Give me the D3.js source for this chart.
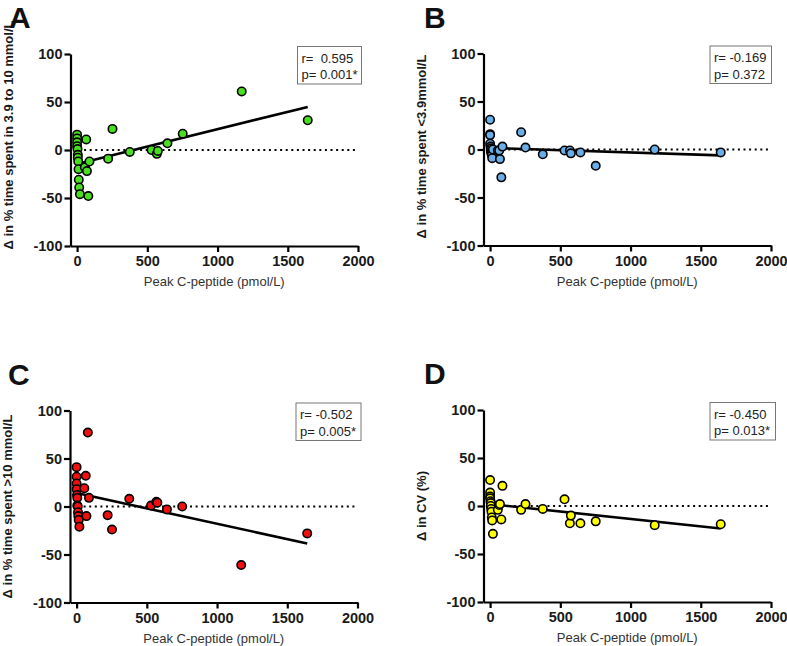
<!DOCTYPE html>
<html>
<head>
<meta charset="utf-8">
<script src="https://cdn.jsdelivr.net/npm/d3@7"></script>
<style>
  body { margin: 0; background: #fff; }
  svg { display: block; font-family: "Liberation Sans", Arial, sans-serif; }
</style>
</head>
<body>
<svg id="chart" width="787" height="646"></svg>
<script>
"use strict";

// peak C-peptide for each patient (same for all 4 panels)
const cPeptide = [0, 0, 0, 0, 3, 5, 5, 8, 10, 12, 15, 20, 55, 65, 70, 80, 88, 221, 252, 375, 530, 568, 575, 643, 752, 1172, 1642];

const deltaInRange = [16, 12, 8, 4, 1, -5, -8, -12, -20, -31, -39, -46, -18, 11, -22, -48, -12, -9, 22, -2, 0, -4, -1, 7, 17, 61, 31];
const deltaBelow = [31, 16, 15, 6, 3, 1, -1, -3, -4, -6, -9, 0, -1, -1, -10, -29, 3, 18, 2, -5, -1, -1, -4, -3, -17, 0, -3];
const deltaAbove = [41, 31, 24, 18, 12, 9, 1, 0, -6, -10, -14, -21, 19, 32, -10, 77, 9, -9, -24, 8, 1, 5, 4, -3, 0, -61, -28];
const deltaCV = [27, 14, 10, 8, 5, 3, 0, -3, -6, -12, -15, -29, -4, 1, 2, -14, 21, -4, 2, -3, 7, -18, -10, -18, -16, -20, -19];

// fitted line: y at x = 0 and at x = 1642
const fitInRange = [-14.6, 44.9];
const fitBelow = [1.7, -6.1];
const fitAbove = [14, -38.5];
const fitCV = [2, -23.4];

const rValues = ["r=  0.595", "r= -0.169", "r= -0.502", "r= -0.450"];
const pValues = ["p= 0.001*", "p= 0.372", "p= 0.005*", "p= 0.013*"];
const panelLetters = ["A", "B", "C", "D"];
const yTitles = [
  "\u0394 in % time spent in 3.9 to 10 mmol/L",
  "\u0394 in % time spent <3.9mmol/L",
  "\u0394 in % time spent >10 mmol/L",
  "\u0394 in CV (%)",
];
const xTicks = [0, 500, 1000, 1500, 2000];
const yTicks = [-100, -50, 0, 50, 100];

const panels = [
  { y: deltaInRange, fit: fitInRange, color: "#48e01e", left: 70.5, top: 54, letterX: 9, titleShift: -15, boxX: 297.5, boxW: 64 },
  { y: deltaBelow, fit: fitBelow, color: "#6aaee8", left: 483.5, top: 53.5, letterX: 424, titleShift: -3, boxX: 710, boxW: 61.5 },
  { y: deltaAbove, fit: fitAbove, color: "#f01010", left: 70, top: 410.5, letterX: 8, titleShift: 0, boxX: 296, boxW: 65 },
  { y: deltaCV, fit: fitCV, color: "#ffff00", left: 483.5, top: 410, letterX: 424, titleShift: 0, boxX: 710, boxW: 65.5 },
];

const svg = d3.select("#chart");
const plotH = 192;
const plotW = 287.5;

panels.forEach((p, i) => {
  const g = svg.append("g");
  const x = d3.scaleLinear().domain([-47, 2000]).range([p.left, p.left + plotW]);
  const y = d3.scaleLinear().domain([-100, 100]).range([p.top + plotH, p.top]);

  // zero line (dotted)
  g.append("line")
    .attr("x1", x(10)).attr("x2", x(1980))
    .attr("y1", y(0)).attr("y2", y(0))
    .attr("stroke", "#000")
    .attr("stroke-width", 2)
    .attr("stroke-dasharray", "2,3.6");

  // fit line
  g.append("line")
    .attr("x1", x(0)).attr("y1", y(p.fit[0]))
    .attr("x2", x(1642)).attr("y2", y(p.fit[1]))
    .attr("stroke", "#000")
    .attr("stroke-width", 2.6);

  // points
  g.selectAll("circle")
    .data(cPeptide.map((c, k) => [c, p.y[k]]))
    .enter()
    .append("circle")
    .attr("cx", (d) => x(d[0]))
    .attr("cy", (d) => y(d[1]))
    .attr("r", 4.2)
    .attr("fill", p.color)
    .attr("stroke", "#000")
    .attr("stroke-width", 1.6);

  // axes
  const fmt = (d) => String(d);
  const xAxis = g.append("g")
    .attr("transform", `translate(0,${p.top + plotH})`)
    .call(d3.axisBottom(x).tickValues(xTicks).tickFormat(fmt).tickSize(6).tickSizeOuter(0).tickPadding(4));
  const yAxis = g.append("g")
    .attr("transform", `translate(${p.left},0)`)
    .call(d3.axisLeft(y).tickValues(yTicks).tickFormat(fmt).tickSize(6).tickSizeOuter(0).tickPadding(2));

  [xAxis, yAxis].forEach((a) => {
    a.select(".domain").attr("stroke-width", 2.2);
    a.selectAll(".tick line").attr("stroke-width", 2.2);
    a.selectAll(".tick text")
      .attr("font-family", "Liberation Sans, Arial, sans-serif")
      .attr("font-size", 14.5)
      .attr("font-weight", "bold")
      .attr("fill", "#1a1a1a");
  });

  // axis titles
  g.append("text")
    .attr("x", p.left + plotW / 2)
    .attr("y", p.top + plotH + 40)
    .attr("text-anchor", "middle")
    .attr("font-size", 13)
    .attr("fill", "#333")
    .text("Peak C-peptide (pmol/L)");

  const tx = p.left - 58;
  const ty = p.top + plotH / 2 + p.titleShift;
  g.append("text")
    .attr("transform", `translate(${tx},${ty}) rotate(-90)`)
    .attr("text-anchor", "middle")
    .attr("font-size", 13)
    .attr("font-weight", "bold")
    .attr("fill", "#1a1a1a")
    .text(yTitles[i]);

  // panel letter
  g.append("text")
    .attr("x", p.letterX)
    .attr("y", p.top - 26)
    .attr("font-size", 30)
    .attr("font-weight", "bold")
    .attr("fill", "#111")
    .text(panelLetters[i]);

  // stats box
  g.append("rect")
    .attr("x", p.boxX).attr("y", p.top - 7.5)
    .attr("width", p.boxW).attr("height", 37.5)
    .attr("fill", "#fff")
    .attr("stroke", "#777")
    .attr("stroke-width", 1);
  g.append("text")
    .attr("x", p.boxX + 4).attr("y", p.top + 8.5)
    .attr("font-size", 13)
    .attr("fill", "#222")
    .attr("xml:space", "preserve")
    .style("white-space", "pre")
    .text(rValues[i]);
  g.append("text")
    .attr("x", p.boxX + 4).attr("y", p.top + 25)
    .attr("font-size", 13)
    .attr("fill", "#222")
    .text(pValues[i]);
});
</script>
</body>
</html>
